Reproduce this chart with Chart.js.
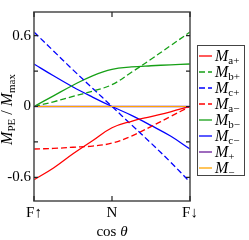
<!DOCTYPE html>
<html>
<head>
<meta charset="utf-8">
<script src="https://cdn.jsdelivr.net/npm/chart.js@4"></script>
<style>
  body { margin: 0; background: #fff; }
  #frame { width: 249px; height: 240px; }
</style>
</head>
<body>
<div id="frame"><canvas id="myChart"></canvas></div>
<script>
// cos(theta) sample positions, F-up (-1) .. N (0) .. F-down (1)
var tVals = [-1, -0.75, -0.5, -0.25, 0, 0.25, 0.5, 0.75, 1];

// values
var maPlus  = [-0.62, -0.52, -0.40, -0.29, -0.18, -0.125, -0.085, -0.045, 0];
var mbPlus  = [0, 0.04, 0.085, 0.13, 0.185, 0.29, 0.40, 0.515, 0.63];
var mcPlus  = [0.63, 0.47, 0.31, 0.155, 0, -0.155, -0.31, -0.47, -0.64];
var maMinus = [-0.36, -0.355, -0.345, -0.335, -0.31, -0.25, -0.17, -0.085, 0];
var mbMinus = [0, 0.09, 0.18, 0.26, 0.315, 0.335, 0.345, 0.353, 0.36];
var mcMinus = [0.36, 0.26, 0.165, 0.08, 0, -0.075, -0.16, -0.25, -0.36];
var mPlus   = [0, 0, 0, 0, 0, 0, 0, 0, 0];
var mMinus  = [0, 0, 0, 0, 0, 0, 0, 0, 0];

var xTicks = [-1, 0, 1];
var xTickLabels = ['F\u2191', 'N', 'F\u2193'];
var yTicks = [-0.6, -0.3, 0, 0.3, 0.6];
var yTickLabels = ['-0.6', '', '0', '', '0.6'];

var subs = ['a+', 'b+', 'c+', 'a\u2212', 'b\u2212', 'c\u2212', '+', '\u2212'];

var RED = '#ff0000', GREEN = '#16a016', BLUE = '#0000ff', PURPLE = '#6a1b9a', ORANGE = '#ffa500';
var serif = '"Liberation Serif", "DejaVu Serif", serif';

function pts(arr) {
    return arr.map((v, i) => ({ x: tVals[i], y: v }));
}

function series(sub, arr, color, dashed, order) {
    return {
        label: 'M' + sub,
        sub: sub,
        data: pts(arr),
        borderColor: color,
        borderWidth: 1.3,
        borderDash: dashed ? [6, 3] : [],
        pointRadius: 0,
        fill: false,
        tension: 0.4,
        order: order
    };
}

var datasets = [
    series(subs[0], maPlus, RED, false, 2),
    series(subs[1], mbPlus, GREEN, true, 2),
    series(subs[2], mcPlus, BLUE, true, 2),
    series(subs[3], maMinus, RED, true, 2),
    series(subs[4], mbMinus, GREEN, false, 2),
    series(subs[5], mcMinus, BLUE, false, 2),
    series(subs[6], mPlus, PURPLE, false, 1),
    series(subs[7], mMinus, ORANGE, false, 0)
];
datasets[7].borderWidth = 1.1;

// frame, inward ticks, legend and axis titles
var decorations = {
    id: 'decorations',
    afterDraw(chart) {
        var ctx = chart.ctx;
        var a = chart.chartArea;
        var xs = chart.scales.x, ys = chart.scales.y;
        ctx.save();

        // frame
        ctx.strokeStyle = '#555';
        ctx.lineWidth = 1.6;
        ctx.strokeRect(a.left, a.top, a.right - a.left, a.bottom - a.top);

        // inward ticks
        ctx.lineWidth = 1.2;
        ctx.strokeStyle = '#222';
        ctx.beginPath();
        yTicks.forEach(v => {
            var py = ys.getPixelForValue(v);
            ctx.moveTo(a.left, py); ctx.lineTo(a.left + 4, py);
            ctx.moveTo(a.right, py); ctx.lineTo(a.right - 4, py);
        });
        xTicks.forEach(v => {
            var px = xs.getPixelForValue(v);
            ctx.moveTo(px, a.bottom); ctx.lineTo(px, a.bottom - 5);
            ctx.moveTo(px, a.top); ctx.lineTo(px, a.top + 5);
        });
        ctx.stroke();

        // legend
        var bx = a.right + 7, by = a.top + 33;
        ctx.strokeStyle = '#444';
        ctx.lineWidth = 1;
        ctx.strokeRect(bx + 0.5, by + 0.5, 47, 130);
        ctx.fillStyle = '#000';
        ctx.textBaseline = 'alphabetic';
        ctx.textAlign = 'left';
        chart.data.datasets.forEach((ds, i) => {
            var cy = by + 11 + i * 16;
            ctx.beginPath();
            ctx.strokeStyle = ds.borderColor;
            ctx.lineWidth = 1.3;
            ctx.setLineDash(ds.borderDash);
            ctx.moveTo(bx + 2, cy); ctx.lineTo(bx + 15, cy);
            ctx.stroke();
            ctx.setLineDash([]);
            ctx.font = 'italic 16px ' + serif;
            ctx.fillText('M', bx + 18, cy + 5);
            var w = ctx.measureText('M').width;
            ctx.font = '11px ' + serif;
            ctx.fillText(ds.sub, bx + 18 + w, cy + 8);
        });

        // x title: cos θ
        ctx.font = '15px ' + serif;
        var w1 = ctx.measureText('cos ').width;
        ctx.font = 'italic 15px ' + serif;
        var w2 = ctx.measureText('\u03b8').width;
        var x0 = xs.getPixelForValue(0) - (w1 + w2) / 2;
        ctx.font = '15px ' + serif;
        ctx.fillText('cos ', x0, 236);
        ctx.font = 'italic 15px ' + serif;
        ctx.fillText('\u03b8', x0 + w1, 236);

        // y title: M_PE / M_max
        var parts = [
            ['italic 16px ', 'M', 0],
            ['11px ', 'PE', 3],
            ['16px ', ' / ', 0],
            ['italic 16px ', 'M', 0],
            ['11px ', 'max', 3]
        ];
        var total = 0;
        parts.forEach(p => { ctx.font = p[0] + serif; p.push(ctx.measureText(p[1]).width); total += p[3]; });
        ctx.translate(12, (a.top + a.bottom) / 2 + 3);
        ctx.rotate(-Math.PI / 2);
        var cx = -total / 2;
        parts.forEach(p => {
            ctx.font = p[0] + serif;
            ctx.fillText(p[1], cx, p[2]);
            cx += p[3];
        });
        ctx.restore();
    }
};

var config = {
    type: 'line',
    data: { datasets: datasets },
    options: {
        responsive: true,
        maintainAspectRatio: false,
        animation: false,
        layout: { padding: { top: 5, right: 59, left: 0, bottom: 0 } },
        plugins: { legend: { display: false }, tooltip: { enabled: false } },
        scales: {
            x: {
                type: 'linear',
                min: -1,
                max: 1,
                grid: { display: false, drawTicks: false },
                border: { display: false },
                afterBuildTicks: scale => { scale.ticks = xTicks.map(v => ({ value: v })); },
                afterFit: scale => { scale.height = 39; },
                ticks: {
                    autoSkip: false,
                    maxRotation: 0,
                    padding: 3,
                    color: '#000',
                    font: { family: serif, size: 15 },
                    callback: v => xTickLabels[xTicks.indexOf(v)]
                }
            },
            y: {
                min: -0.8,
                max: 0.8,
                grid: { display: false, drawTicks: false },
                border: { display: false },
                afterBuildTicks: scale => { scale.ticks = yTicks.map(v => ({ value: v })); },
                afterFit: scale => { scale.width = 34; },
                ticks: {
                    autoSkip: false,
                    padding: 3,
                    color: '#000',
                    font: { family: serif, size: 15 },
                    callback: v => yTickLabels[yTicks.indexOf(v)]
                }
            }
        }
    },
    plugins: [decorations]
};

var ctx = document.getElementById('myChart').getContext('2d');
var myChart = new Chart(ctx, config);
</script>
</body>
</html>
